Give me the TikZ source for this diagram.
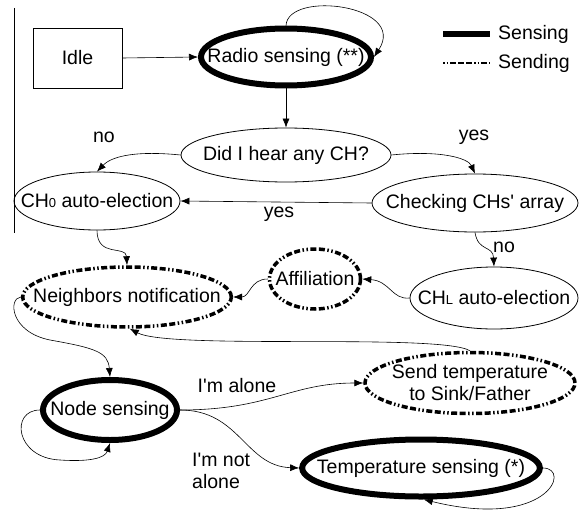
\documentclass[tikz,border=0pt]{standalone}
\usepackage{fontspec}
\setmainfont{Liberation Sans}[Ligatures=TeXOff]
\usetikzlibrary{shapes.geometric,arrows.meta}
\begin{document}
\begin{tikzpicture}[x=1pt,y=-1pt,
  every node/.style={font=\fontsize{19.5}{22}\selectfont},
  st/.style={ellipse,draw,line width=0.8pt,inner sep=-20pt},
  sensing/.style={st,line width=6pt},
  sendpat/.style={dash pattern=on 6pt off 2.5pt on 6pt off 2.5pt on 1.5pt off 2.5pt on 1.5pt off 2.5pt},
  sending/.style={st,line width=3.5pt,sendpat},
  arr/.style={-{Latex[length=9pt,width=7pt]},line width=0.6pt},
  lbl/.style={inner sep=0pt}
]
\useasboundingbox (0,0) rectangle (588,516);
% left rule
\coordinate (v1) at (14,8);
\coordinate (v2) at (14,233);
\draw[line width=1pt] (v1) -- (v2);

% nodes
\node[draw,line width=0.8pt,minimum width=89pt,minimum height=60pt] (idle) at (77.5,58) {Idle};
\node[sensing,minimum width=170pt,minimum height=57pt] (radio) at (286,57) {Radio sensing (**)};
\node[st,minimum width=210pt,minimum height=54pt] (did) at (286,155) {Did I hear any CH?};
\node[st,minimum width=166pt,minimum height=58pt] (ch0) at (97,201) {CH{\fontsize{13}{13}\selectfont 0} auto-election};
\node[st,minimum width=206pt,minimum height=58pt] (check) at (475,203) {Checking CHs' array};
\node[st,minimum width=168pt,minimum height=62pt] (chl) at (494,298) {CH{\fontsize{13}{13}\selectfont L} auto-election};
\node[sending,minimum width=91pt,minimum height=60pt] (affil) at (315,279) {Affiliation};
\node[sending,minimum width=196pt,minimum height=60pt] (neigh) at (127,297) {Neighbors notification};
\node[sensing,minimum width=134pt,minimum height=60pt] (node) at (110,410) {Node sensing};
\node[sending,minimum width=210pt,minimum height=61pt,align=center] (send) at (470,383) {Send temperature\\to Sink/Father};
\node[sensing,minimum width=232pt,minimum height=57pt] (temp) at (421,468) {Temperature sensing (*)};

% labels
\node[lbl] (no1) at (104,137) {no};
\node[lbl] (yes1) at (474,137) {yes};
\node[lbl] (yes2) at (279,214) {yes};
\node[lbl] (no2) at (504,247) {no};
\node[lbl] (alone) at (237,386) {I'm alone};
\node[lbl,align=left,anchor=north west] (notalone) at (192,453) {I'm not\\alone};

% connectors
\draw[arr] (idle.east) -- (radio.west);
\draw[arr] (radio.north) .. controls (288,-10) and (408,5) .. (radio.east);
\draw[arr] (radio.south) -- (did.north);
\draw[arr] (did.west) .. controls (130,150) and (110,158) .. (ch0.north);
\draw[arr] (did.east) .. controls (440,150) and (468,158) .. (check.north);
\draw[arr] (check.west) -- (ch0.east);
\draw[arr] (check.south) .. controls (478,252) and (493,245) .. (chl.north);
\draw[arr] (chl.west) .. controls (392,300) and (390,281) .. (affil.east);
\draw[arr] (affil.west) .. controls (250,279) and (250,297) .. (neigh.east);
\draw[arr] (ch0.south) .. controls (97,258) and (126,245) .. (neigh.north);
\draw[arr] (send.north) .. controls (440,333) and (170,350) .. (neigh.-85);
\draw[arr] (neigh.west) .. controls (8,298) and (10,332) .. (50,340)
  .. controls (95,348) and (108,352) .. (node.north);
\draw[arr] (node.west) .. controls (10,410) and (15,458) .. (60,460)
  .. controls (90,462) and (105,458) .. (node.south);
\draw[arr] (node.east) .. controls (270,410) and (290,383) .. (send.west);
\draw[arr] (node.east) .. controls (240,410) and (245,466) .. (temp.west);
\draw[arr] (temp.east) .. controls (572,468) and (548,530) .. (temp.-85);

% legend
\coordinate (l1a) at (443,34);
\coordinate (l1b) at (490,34);
\coordinate (l2a) at (443,63);
\coordinate (l2b) at (490,63);
\draw[line width=6pt] (l1a) -- (l1b);
\draw[line width=2pt,dash pattern=on 1.5pt off 2pt on 1.5pt off 2pt on 6pt off 2pt on 6pt off 2pt on 6pt off 2pt] (l2a) -- (l2b);
\node[anchor=west,inner sep=0pt] (lsens) at (498,34) {Sensing};
\node[anchor=west,inner sep=0pt] (lsend) at (498,63) {Sending};
\end{tikzpicture}
\end{document}
